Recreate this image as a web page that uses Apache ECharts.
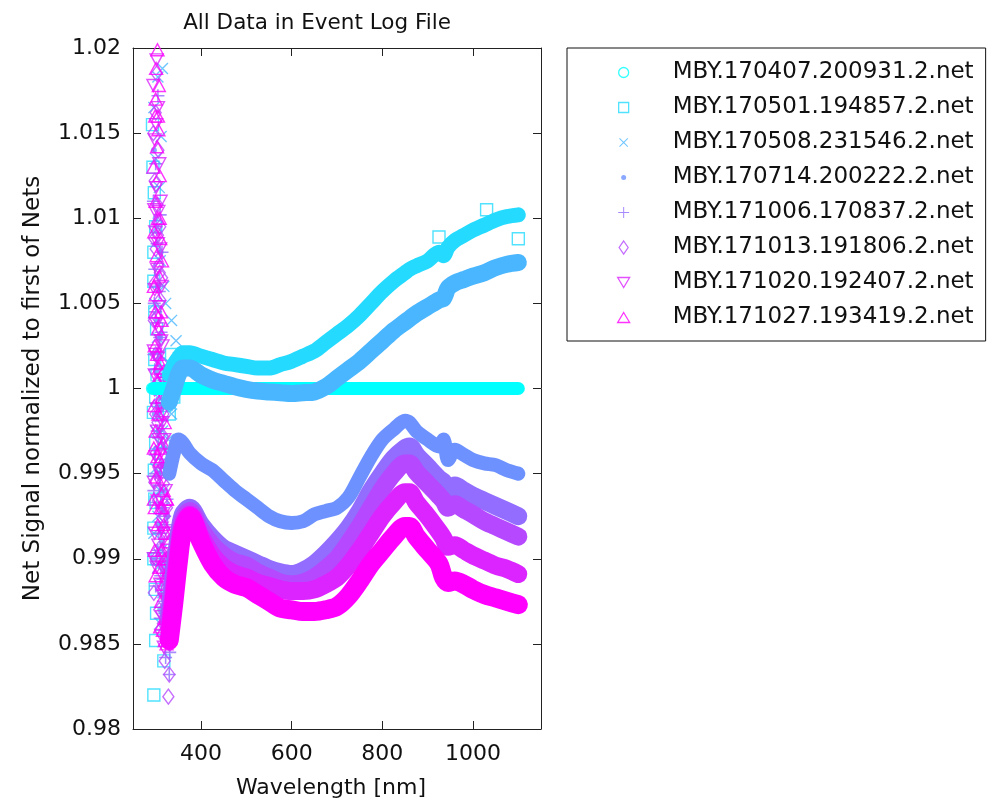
<!DOCTYPE html>
<html>
<head>
<meta charset="utf-8">
<script src="https://cdn.jsdelivr.net/npm/echarts@6/dist/echarts.min.js"></script>
<style>html,body{margin:0;padding:0;background:#fff}#c{width:989px;height:802px}</style>
</head>
<body>
<div id="c"></div>
<script>
// ---------------- data ----------------
const seriesNames = [
  'MBY.170407.200931.2.net','MBY.170501.194857.2.net','MBY.170508.231546.2.net','MBY.170714.200222.2.net',
  'MBY.171006.170837.2.net','MBY.171013.191806.2.net','MBY.171020.192407.2.net','MBY.171027.193419.2.net'
];
const xTicks = [400, 600, 800, 1000];
const yTicks = [0.98, 0.985, 0.99, 0.995, 1, 1.005, 1.01, 1.015, 1.02];

const band1Nm = [295, 400, 600, 800, 1000, 1100];
const band1 = [1, 1, 1, 1, 1, 1];

const bandNm = [330, 340, 350, 360, 375, 400, 425, 450, 475, 500, 525, 550, 575, 600, 625, 650, 675, 700, 725, 750, 775, 800, 825,
                850, 860, 875, 900, 925, 935, 945, 960, 980, 1000, 1025, 1050, 1075, 1100];
const band2 = [1.0008, 1.0014, 1.0018, 1.0021, 1.0021, 1.0019, 1.0017, 1.0015, 1.0014, 1.0013, 1.0012, 1.0012, 1.0014, 1.0016, 1.0019, 1.0022, 1.0027, 1.0032, 1.0037, 1.0043, 1.0050, 1.0057, 1.0063,
               1.0068, 1.0070, 1.0072, 1.0075, 1.0080, 1.0078, 1.0083, 1.0087, 1.0090, 1.0093, 1.0096, 1.0099, 1.0101, 1.0102];
const band3 = [0.9992, 1.0000, 1.0008, 1.0012, 1.0012, 1.0008, 1.0005, 1.0003, 1.0001, 0.99995, 0.99985, 0.9998, 0.99975, 0.9997, 0.99975, 0.9998, 1.0001, 1.0006, 1.0011, 1.0016, 1.0022, 1.0028, 1.0034,
               1.0039, 1.0041, 1.0044, 1.0048, 1.0052, 1.0053, 1.0059, 1.0062, 1.0064, 1.0066, 1.0068, 1.0071, 1.0073, 1.0074];
const band4 = [0.9950, 0.9962, 0.9970, 0.9968, 0.9962, 0.9956, 0.9952, 0.9946, 0.9940, 0.9935, 0.9930, 0.9925, 0.9922, 0.9921, 0.9922, 0.9926, 0.9928, 0.9930, 0.9936, 0.9948, 0.9960, 0.9970, 0.9976,
               0.9981, 0.9980, 0.9975, 0.9970, 0.9966, 0.9970, 0.9958, 0.9964, 0.9961, 0.9958, 0.9956, 0.9955, 0.9952, 0.9950];
const band5 = [0.9868, 0.9890, 0.9912, 0.9926, 0.9930, 0.9920, 0.9912, 0.9906, 0.9903, 0.9900, 0.9897, 0.9894, 0.9892, 0.9891, 0.9893, 0.9897, 0.9903, 0.9910, 0.9918, 0.9928, 0.9940, 0.9950, 0.9959,
               0.9965, 0.9966, 0.9961, 0.9954, 0.9947, 0.9945, 0.9940, 0.9943, 0.9940, 0.9937, 0.9934, 0.9931, 0.9928, 0.9925];
const band6 = [0.9864, 0.9885, 0.9908, 0.9923, 0.9928, 0.9917, 0.9908, 0.9902, 0.9898, 0.9896, 0.9892, 0.9889, 0.9886, 0.9885, 0.9886, 0.9889, 0.9894, 0.9900, 0.9909, 0.9919, 0.9930, 0.9941, 0.9950,
               0.9956, 0.9956, 0.9951, 0.9944, 0.9937, 0.9934, 0.9930, 0.9932, 0.9929, 0.9926, 0.9922, 0.9919, 0.9916, 0.9913];
const band7 = [0.9858, 0.9880, 0.9903, 0.9920, 0.9926, 0.9913, 0.9902, 0.9895, 0.9891, 0.9889, 0.9886, 0.9884, 0.9882, 0.9881, 0.9881, 0.9882, 0.9885, 0.9889, 0.9896, 0.9905, 0.9915, 0.9925, 0.9933,
               0.9939, 0.9939, 0.9933, 0.9925, 0.9916, 0.9912, 0.9907, 0.9908, 0.9905, 0.9902, 0.9899, 0.9896, 0.9894, 0.9891];
const band8 = [0.9852, 0.9874, 0.9898, 0.9917, 0.9925, 0.9910, 0.9897, 0.9889, 0.9885, 0.9883, 0.9879, 0.9875, 0.9871, 0.9870, 0.9869, 0.9869, 0.9870, 0.9872, 0.9878, 0.9887, 0.9897, 0.9905, 0.9913,
               0.9919, 0.9919, 0.9913, 0.9905, 0.9897, 0.9889, 0.9886, 0.9887, 0.9885, 0.9882, 0.9879, 0.9877, 0.9875, 0.9873];

// individually visible markers (noisy UV column, stray points), [wavelength, value]
const pts1 = [[292,1],[297,1],[302,1],[307,1],[312,1]];
const pts2 = [[293,1.0155],[297,1.0115],[300,1.0095],[296,1.0063],[302,1.0035],[298,1.0017],[303,1.0008],[295,0.9986],[300,0.9968],[297,0.9952],
              [301,0.9933],[296,0.9918],[303,0.9900],[299,0.9882],[300,0.9852],[318,0.9840],[296,0.9820],[310,0.9962],[320,0.9990],[330,1.0005],
              [325,1.0010],[335,1.0020],[345,1.0012],[340,0.9995],[330,0.9985],[350,1.0008],
              [294,1.0130],[296,1.0080],[298,1.0045],[300,0.9995],[298,0.9935],[296,0.9900],[302,0.9868],
              [925,1.0089],[1030,1.0105],[1100,1.0088]];
const pts3 = [[315,1.0188],[305,1.0183],[312,1.0148],[308,1.0118],[303,1.0095],[310,1.0075],[318,1.0060],[322,1.0050],[335,1.0040],[345,1.0028],
              [310,1.0020],[320,1.0010],[330,1.0015],[340,1.0005],[350,1.0018],[305,0.9995],[325,0.9990],[335,0.9985],[315,0.9975],[328,0.9970],
              [300,0.9953],[320,0.9955],[310,0.9940],[305,0.9925],[312,0.9905],[305,0.9895],[316,0.9880],[310,0.9862],
              [296,1.0165],[300,1.0135],[298,1.0050],[304,1.0030],[300,0.9975],[296,0.9915],[318,0.9930],[308,0.9968]];
const pts4 = [[300,1.0100],[305,1.0060],[310,1.0030],[302,1.0010],[315,0.9990],[308,0.9975],[320,0.9965],[330,0.9960],[312,0.9940],[305,0.9920],
              [318,0.9895],[310,0.9870],
              [296,1.0140],[298,0.9985],[303,1.0040],[307,0.9950],[311,1.0080],[314,0.9910],[317,0.9955],[322,0.9940],[326,0.9925],[296,0.9900]];
const pts5 = [[305,1.0172],[300,1.0132],[310,1.0102],[303,1.0085],[298,1.0070],[308,1.0057],[300,1.0045],[312,1.0033],[305,1.0021],[298,1.0011],
              [310,1.0001],[302,0.9991],[315,0.9981],[306,0.9971],[299,0.9961],[318,0.9953],[310,0.9943],[302,0.9933],[320,0.9925],[312,0.9915],
              [305,0.9905],[324,0.9898],[316,0.9888],[300,0.9884],[326,0.9880],[320,0.9868],[314,0.9858],[328,0.9850],[322,0.9842],[330,0.9832],
              [314,1.0080],[296,1.0020],[320,1.0005],[296,0.9940],[326,0.9920],[302,0.9900],[334,0.9870],[310,0.9865],
              [295,1.0110],[297,1.0050],[299,0.9950],[301,1.0095],[303,0.9975],[305,1.0060],[307,0.9915],[309,1.0030],[311,0.9890],[313,0.9990],
              [315,0.9930],[317,0.9875],[319,0.9965],[321,0.9900],[323,0.9855],[325,0.9935],[327,0.9890],[329,0.9858],[331,0.9845]];
const pts6 = [[302,1.0185],[300,1.0162],[306,1.0140],[298,1.0122],[304,1.0108],[310,1.0095],[300,1.0082],[306,1.0072],[298,1.0062],[310,1.0052],
              [303,1.0042],[312,1.0030],[300,1.0020],[308,1.0010],[298,1.0000],[312,0.9990],[304,0.9980],[316,0.9972],[300,0.9962],[310,0.9952],
              [318,0.9944],[305,0.9934],[314,0.9924],[322,0.9916],[308,0.9906],[318,0.9896],[326,0.9892],[312,0.9882],[322,0.9872],[330,0.9876],
              [316,0.9862],[326,0.9852],[320,0.9840],[330,0.9832],[328,0.9819],
              [314,1.0065],[296,1.0040],[318,1.0000],[297,0.9945],[325,0.9930],[300,0.9900],[333,0.9885],[308,0.9870],
              [295,1.0150],[297,1.0088],[299,0.9985],[301,1.0120],[303,1.0002],[305,1.0090],[307,0.9955],[309,1.0068],[311,0.9930],[313,1.0015],
              [315,0.9905],[317,0.9985],[319,0.9925],[321,0.9880],[323,0.9955],[325,0.9900],[327,0.9862],[329,0.9890],[296,0.9880],[331,0.9850]];
const pts7 = [[302,1.0193],[305,1.0165],[298,1.0146],[308,1.0132],[301,1.0118],[306,1.0104],[299,1.0092],[310,1.0082],[303,1.0070],[298,1.0058],
              [308,1.0048],[301,1.0038],[312,1.0028],[305,1.0018],[298,1.0008],[310,0.9998],[303,0.9988],[315,0.9980],[307,0.9970],[300,0.9960],
              [318,0.9952],[311,0.9944],[304,0.9934],[320,0.9928],[313,0.9918],[306,0.9908],[324,0.9905],[316,0.9895],[310,0.9885],[328,0.9888],
              [320,0.9876],[314,0.9866],[330,0.9870],[324,0.9858],[318,0.9848],
              [313,1.0060],[296,1.0022],[317,1.0005],[296,0.9945],[322,0.9940],[298,0.9915],[302,0.9895],[334,0.9880],[312,0.9855],
              [295,1.0178],[297,1.0105],[299,1.0020],[301,1.0155],[303,0.9975],[305,1.0085],[307,1.0035],[309,0.9950],[311,1.0110],[313,0.9985],
              [315,1.0025],[317,0.9915],[319,0.9970],[321,0.9895],[323,0.9950],[325,0.9875],[327,0.9915],[329,0.9865],[331,0.9895],[296,0.9900]];
const pts8 = [[304,1.0199],[307,1.0178],[300,1.0170],[306,1.0152],[303,1.0142],[309,1.0125],[300,1.0110],[305,1.0100],[310,1.0088],[302,1.0078],
              [308,1.0066],[300,1.0055],[312,1.0045],[305,1.0035],[298,1.0025],[310,1.0015],[303,1.0005],[314,0.9995],[306,0.9985],[300,0.9975],
              [316,0.9968],[309,0.9958],[302,0.9948],[318,0.9940],[311,0.9930],[305,0.9920],[322,0.9915],[314,0.9905],[308,0.9895],[326,0.9900],
              [318,0.9885],[312,0.9875],[328,0.9880],[322,0.9865],[316,0.9858],[330,0.9862],[324,0.9850],
              [296,1.0060],[314,1.0075],[297,0.9990],[320,0.9980],[296,0.9935],[324,0.9935],[298,0.9905],[318,0.9920],[300,0.9890],[334,0.9875],
              [310,0.9860],[320,0.9852],
              [295,1.0130],[297,1.0092],[299,1.0045],[301,1.0188],[303,1.0020],[305,1.0160],[307,1.0012],[309,1.0100],[311,0.9965],[313,1.0040],
              [315,0.9930],[317,1.0010],[319,0.9900],[321,0.9960],[323,0.9890],[325,0.9935],[327,0.9870],[329,0.9910],[331,0.9885],[333,0.9860],
              [296,0.9965],[298,0.9930],[299,1.0160],[304,0.9960]];

// ---------------- styles ----------------
const colors = ['#00FFFF','#24DBFF','#49B6FF','#6D92FF','#926DFF','#B649FF','#DB24FF','#FF00FF'];
const P_X = 'path://M0,0.8 L0.8,0 L10,9.2 L9.2,10 Z M9.2,0 L10,0.8 L0.8,10 L0,9.2 Z';
const P_PLUS = 'path://M4.4,0 L5.6,0 L5.6,4.4 L10,4.4 L10,5.6 L5.6,5.6 L5.6,10 L4.4,10 L4.4,5.6 L0,5.6 L0,4.4 L4.4,4.4 Z';
const P_DOWN = 'path://M0,0 L10,0 L5,9 Z';
const P_UP = 'path://M5,0 L10,9 L0,9 Z';
const P_DIAMOND = 'path://M5,0 L9,6.5 L5,13 L1,6.5 Z';
const symbols = ['circle', 'rect', P_X, 'circle', P_PLUS, P_DIAMOND, P_DOWN, P_UP];
const symSizes = [11, 12, 12, 6, 13, [11, 15], [13, 12], [13, 12]];
// legend icons drawn 1:1 inside an 88x14 frame (icon centred in the frame)
const L_CIRCLE = 'path://M0,0 M88,14 M39,7 A5,5 0 1,1 49,7 A5,5 0 1,1 39,7 Z';
const L_SQUARE = 'path://M0,0 M88,14 M39,2 L49,2 L49,12 L39,12 Z';
const L_X = 'path://M0,0 M88,14 M39.5,3.2 L40.2,2.5 L48.5,10.8 L47.8,11.5 Z M47.8,2.5 L48.5,3.2 L40.2,11.5 L39.5,10.8 Z';
const L_DOT = 'path://M0,0 M88,14 M41.5,7 A2.5,2.5 0 1,1 46.5,7 A2.5,2.5 0 1,1 41.5,7 Z';
const L_PLUS = 'path://M0,0 M88,14 M43.5,1.5 L44.5,1.5 L44.5,6.5 L49.5,6.5 L49.5,7.5 L44.5,7.5 L44.5,12.5 L43.5,12.5 L43.5,7.5 L38.5,7.5 L38.5,6.5 L43.5,6.5 Z';
const L_DIAMOND = 'path://M0,0 M88,14 M44,0.5 L48.5,7 L44,13.5 L39.5,7 Z';
const L_DOWN = 'path://M0,0 M88,14 M38,2 L50,2 L44,12 Z';
const L_UP = 'path://M0,0 M88,14 M44,2 L50,12 L38,12 Z';
const legendIcons = [L_CIRCLE, L_SQUARE, L_X, L_DOT, L_PLUS, L_DIAMOND, L_DOWN, L_UP];
const filled = [false, false, true, true, true, false, false, false];
const bandWidths = [13, 15, 17, 14, 18, 18, 18, 19];

const bandVals = [band1, band2, band3, band4, band5, band6, band7, band8];
const ptVals = [pts1, pts2, pts3, pts4, pts5, pts6, pts7, pts8];

function markerStyle(i) {
  return filled[i]
    ? { color: colors[i], borderWidth: 0 }
    : { color: 'rgba(0,0,0,0)', borderColor: colors[i], borderWidth: 1.4 };
}

const series = [];
for (let i = 0; i < 8; i++) {
  const nm = i === 0 ? band1Nm : bandNm;
  series.push({
    name: '_band' + i,
    type: 'line',
    data: nm.map((x, k) => [x, bandVals[i][k]]),
    showSymbol: false,
    smooth: 0.3,
    lineStyle: { color: colors[i], width: bandWidths[i], cap: 'round', join: 'round' },
    itemStyle: { color: colors[i] },
    silent: true
  });
  series.push({
    name: seriesNames[i],
    type: 'scatter',
    data: ptVals[i],
    symbol: symbols[i],
    symbolSize: symSizes[i],
    itemStyle: markerStyle(i),
    silent: true
  });
}

const legendData = seriesNames.map((n, i) => ({
  name: n,
  icon: legendIcons[i],
  itemStyle: filled[i]
    ? { color: colors[i], borderWidth: 0 }
    : { color: 'rgba(0,0,0,0)', borderColor: colors[i], borderWidth: 1.3 }
}));

const FONT = 'DejaVu Sans';
const axisCommon = {
  type: 'value',
  axisLine: { show: true, onZero: false, lineStyle: { color: '#222', width: 1 } },
  axisTick: { show: true, inside: true, length: 8, lineStyle: { color: '#222', width: 1 } },
  splitLine: { show: false }
};

const option = {
  animation: false,
  backgroundColor: '#fff',
  textStyle: { fontFamily: FONT, color: '#111' },
  title: {
    text: 'All Data in Event Log File',
    left: 312, textAlign: 'center', top: 7,
    textStyle: { fontFamily: FONT, fontSize: 21.5, fontWeight: 'normal', color: '#111' }
  },
  grid: { left: 133, right: 448, top: 48, bottom: 73, containLabel: false, outerBoundsMode: 'none' },
  legend: {
    orient: 'vertical',
    left: 567, top: 48,
    padding: [13, 12, 12, 12],
    itemWidth: 88, itemHeight: 14, itemGap: 12,
    symbolKeepAspect: false,
    borderColor: '#111', borderWidth: 1, borderRadius: 0,
    backgroundColor: '#fff',
    selectedMode: false,
    textStyle: { fontFamily: FONT, fontSize: 23, lineHeight: 22, color: '#111' },
    data: legendData
  },
  xAxis: [
    Object.assign({}, axisCommon, {
      position: 'bottom', min: 250, max: 1150,
      axisTick: Object.assign({}, axisCommon.axisTick, { customValues: xTicks }),
      axisLabel: { customValues: xTicks, fontSize: 22, color: '#111', margin: 14, fontFamily: FONT,
                   formatter: v => String(v) },
      name: 'Wavelength [nm]', nameLocation: 'middle', nameGap: 48,
      nameTextStyle: { fontSize: 22, color: '#111', fontFamily: FONT, padding: [0, 12, 0, 0] }
    }),
    Object.assign({}, axisCommon, {
      position: 'top', min: 250, max: 1150,
      axisTick: Object.assign({}, axisCommon.axisTick, { customValues: xTicks }),
      axisLabel: { show: false }
    })
  ],
  yAxis: [
    Object.assign({}, axisCommon, {
      position: 'left', min: 0.98, max: 1.02,
      axisTick: Object.assign({}, axisCommon.axisTick, { customValues: yTicks }),
      axisLabel: { customValues: yTicks, fontSize: 22, color: '#111', margin: 12, fontFamily: FONT,
                   formatter: v => String(+(+v).toFixed(3)) },
      name: 'Net Signal normalized to first of Nets', nameLocation: 'middle', nameGap: 88, nameRotate: 90,
      nameTextStyle: { fontSize: 23, color: '#111', fontFamily: FONT }
    }),
    Object.assign({}, axisCommon, {
      position: 'right', min: 0.98, max: 1.02,
      axisTick: Object.assign({}, axisCommon.axisTick, { customValues: yTicks }),
      axisLabel: { show: false }
    })
  ],
  series: series
};

const chart = echarts.init(document.getElementById('c'), null, { renderer: 'canvas' });
chart.setOption(option);
</script>
</body>
</html>
